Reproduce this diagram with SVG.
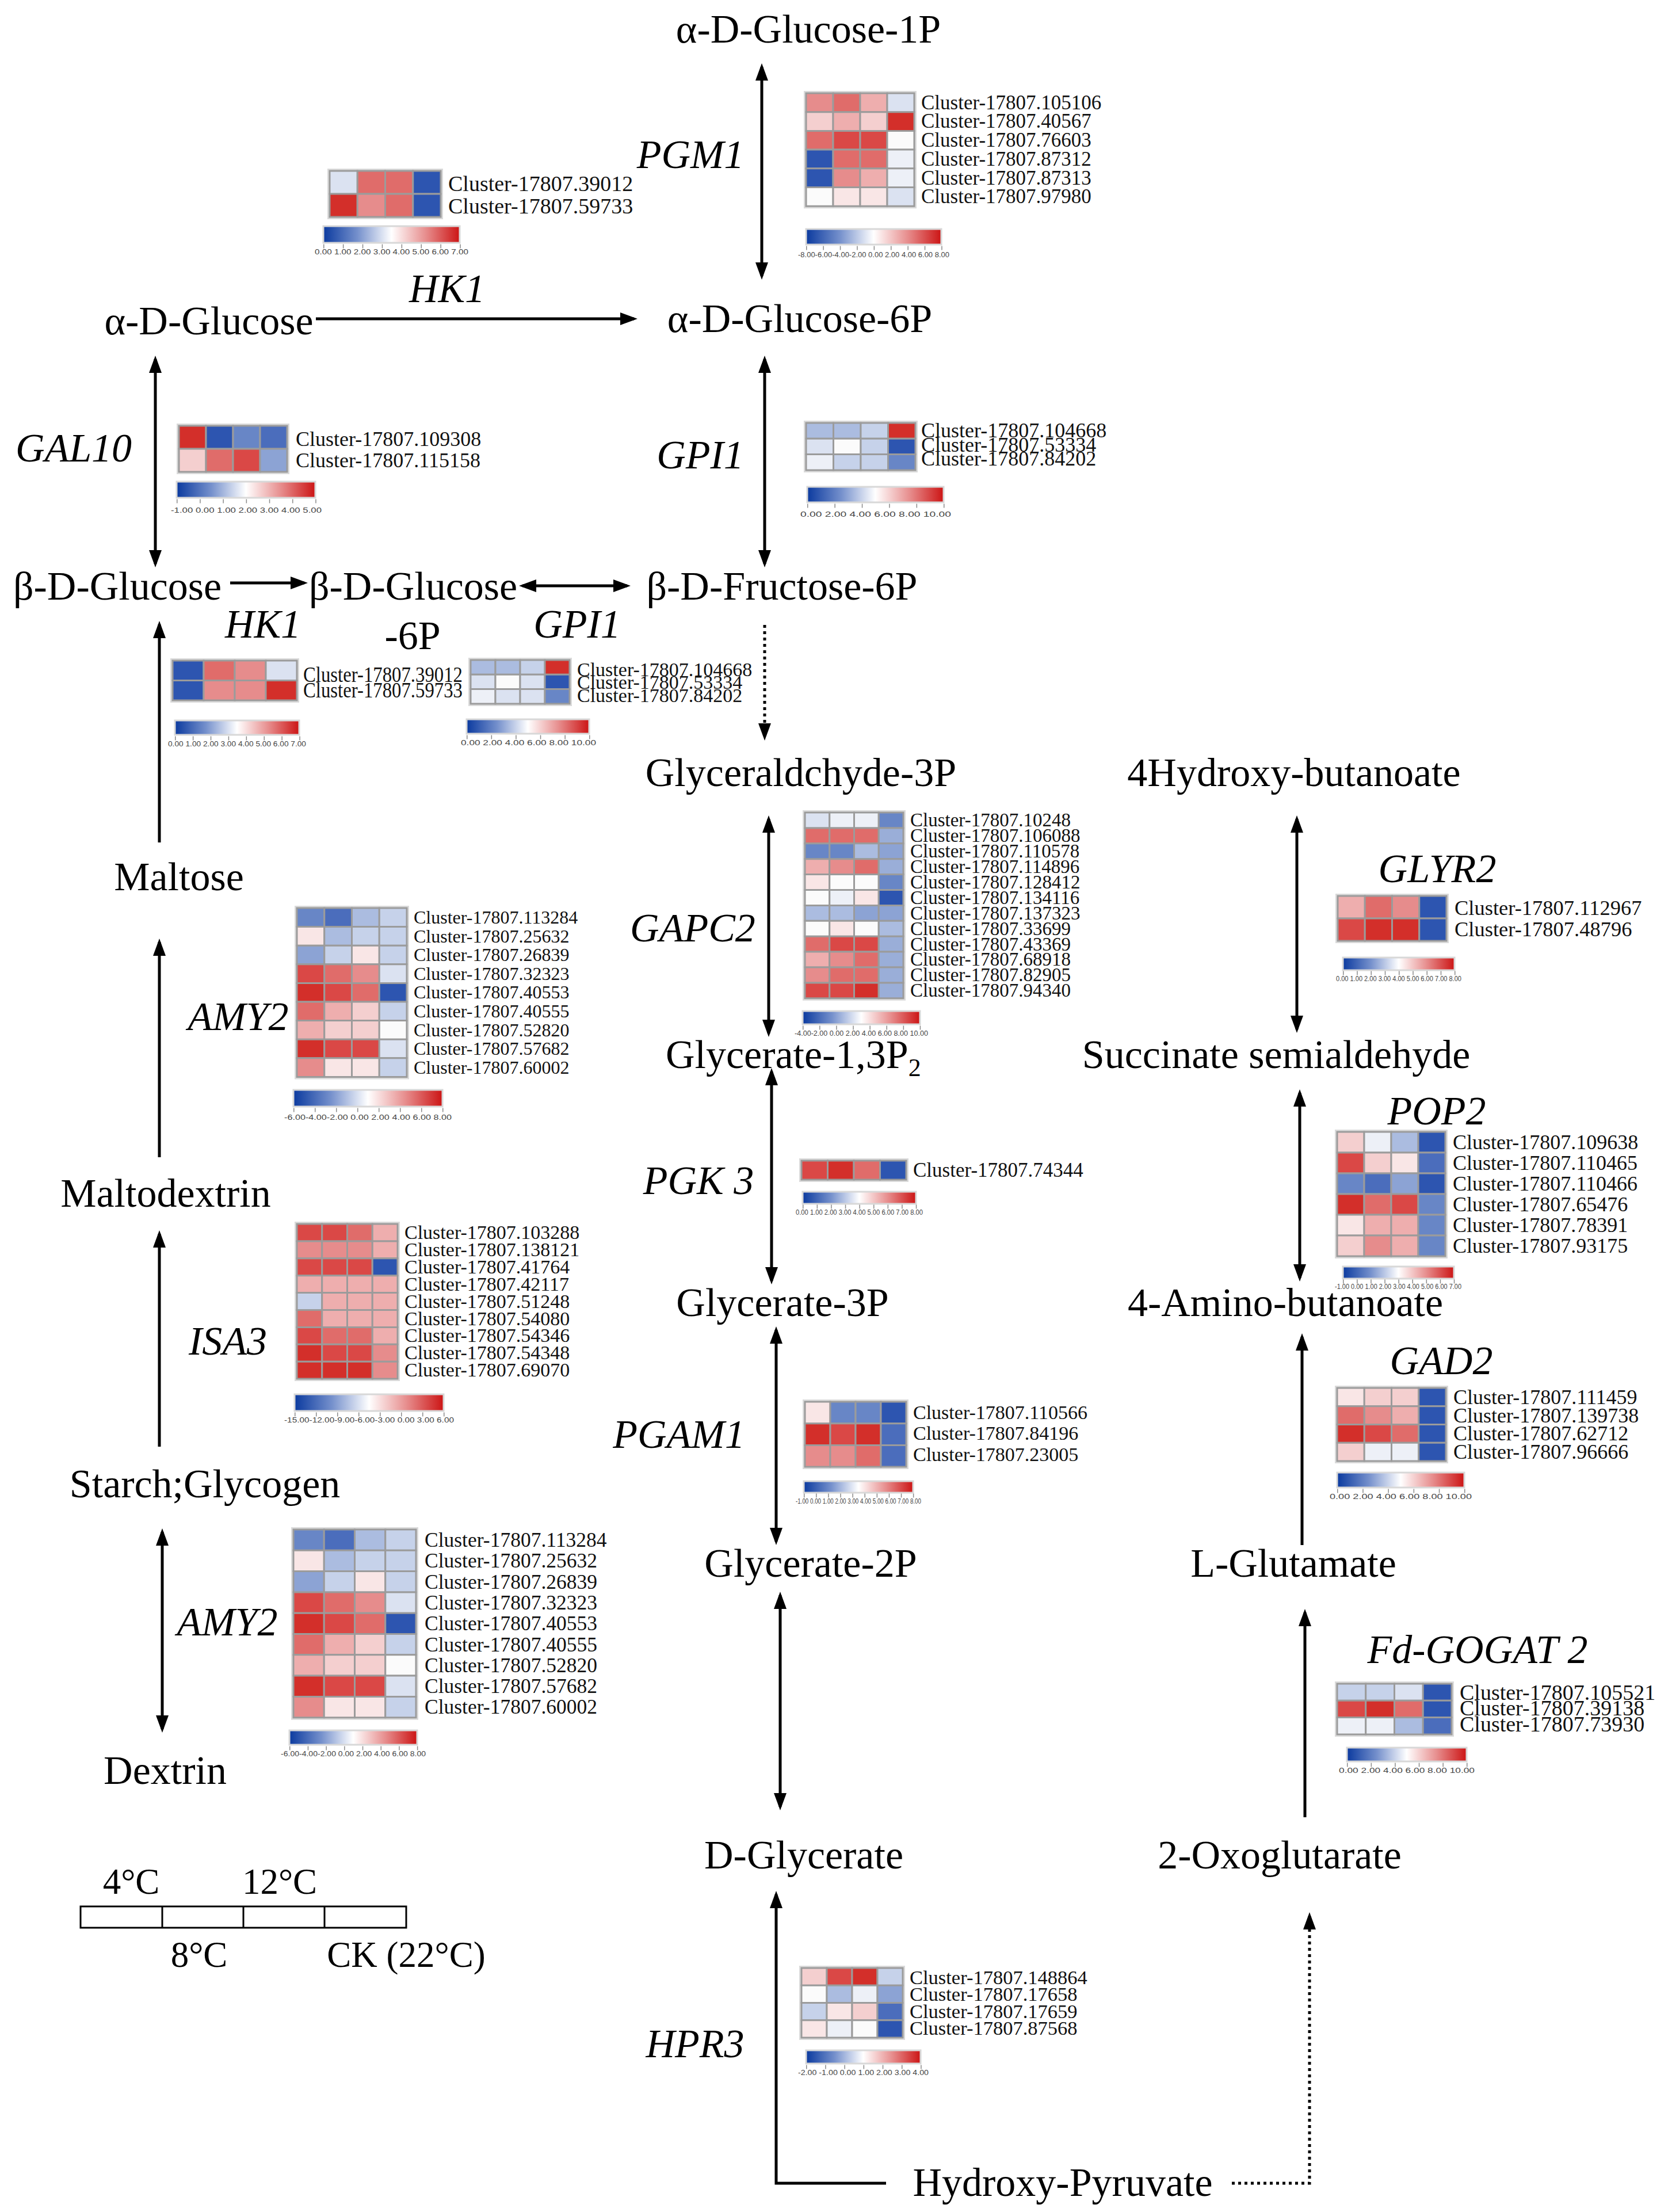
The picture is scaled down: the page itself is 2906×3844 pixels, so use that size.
<svg xmlns="http://www.w3.org/2000/svg" width="2906" height="3844" viewBox="0 0 2906 3844">
<defs>
<linearGradient id="grad" x1="0" y1="0" x2="1" y2="0">
<stop offset="0" stop-color="#0b3a9f"/>
<stop offset="0.25" stop-color="#7590cc"/>
<stop offset="0.5" stop-color="#ffffff"/>
<stop offset="0.75" stop-color="#e78e8e"/>
<stop offset="1" stop-color="#cc1414"/>
</linearGradient>
<marker id="ah" viewBox="0 0 30 22" refX="24" refY="11" markerWidth="30" markerHeight="22" markerUnits="userSpaceOnUse" orient="auto-start-reverse">
<path d="M0,0 L30,11 L0,22 z" fill="#000"/>
</marker>
<style>
.met{font-family:"Liberation Serif","Times New Roman",serif;font-size:70px;fill:#000;text-anchor:middle}
.enz{font-family:"Liberation Serif","Times New Roman",serif;font-size:70px;font-style:italic;fill:#000;text-anchor:middle}
.leg{font-family:"Liberation Serif","Times New Roman",serif;font-size:63px;fill:#000;text-anchor:middle}
.cl{font-family:"Liberation Serif","Times New Roman",serif;fill:#111}
.tk{font-family:"Liberation Sans",Arial,sans-serif;font-size:13px;fill:#444}
.hm rect{stroke:#9b9b9b;stroke-width:3px;vector-effect:non-scaling-stroke}
.hm .halo{fill:#9b9b9b;stroke:#dadada;stroke-width:8px}
.cb{fill:url(#grad);stroke:#d8d8d8;stroke-width:3}
.tl{stroke:#8a8a8a;stroke-width:7;fill:none}
.arr path{stroke:#000;stroke-width:5;fill:none}
.one{marker-end:url(#ah)}
.two{marker-start:url(#ah);marker-end:url(#ah)}
.dot{stroke-dasharray:5 6}
.a{fill:#d32f2a}.b{fill:#da4846}.c{fill:#e06c6a}.d{fill:#e68c8c}.e{fill:#eeaeae}.f{fill:#f4cfcf}.g{fill:#f9e6e6}
.w{fill:#fbfbfb}.h{fill:#edf0f7}.i{fill:#dbe2f1}.j{fill:#c6d2ea}.k{fill:#abbce0}.p{fill:#9aaed8}.l{fill:#8ca3d4}.m{fill:#6886c6}.n{fill:#4b6dbc}.o{fill:#2d55b0}
</style>
</defs>
<rect width="2906" height="3844" fill="#fff"/>

<g id="connectors" class="arr">
<path class="two" d="M1324,116 V480"/>
<path class="one" d="M549,554 H1102"/>
<path class="two" d="M1329,624 V980"/>
<path class="two" d="M270,624 V980"/>
<path class="one" d="M400,1013 H529"/>
<path class="two" d="M908,1018 H1090"/>
<path class="one dot" d="M1329,1086 V1281"/>
<path class="one" d="M277,1464 V1085"/>
<path class="one" d="M277,2011 V1637"/>
<path class="one" d="M277,2514 V2144"/>
<path class="two" d="M282,2662 V3005"/>
<path class="two" d="M1336,1423 V1796"/>
<path class="two" d="M1341,1862 V2226"/>
<path class="two" d="M1349,2311 V2679"/>
<path class="two" d="M1356,2772 V3140"/>
<path class="one" d="M1540,3794 H1349 V3292"/>
<path class="one dot" d="M2141,3794 H2276 V3329"/>
<path class="one" d="M2268,3158 V2802"/>
<path class="one" d="M2263,2685 V2323"/>
<path class="two" d="M2259,1899 V2221"/>
<path class="two" d="M2254,1423 V1789"/>
</g>

<g id="metabolites">
<g id="m-glc1p"><text class="met" x="1405" y="74">α-D-Glucose-1P</text></g>
<g id="m-aglc"><text class="met" x="363" y="581">α-D-Glucose</text></g>
<g id="m-glc6p"><text class="met" x="1390" y="577">α-D-Glucose-6P</text></g>
<g id="m-bglc"><text class="met" x="204" y="1042">β-D-Glucose</text></g>
<g id="m-bglc6p"><text class="met" x="718" y="1042">β-D-Glucose</text><text class="met" x="717" y="1128">-6P</text></g>
<g id="m-fru6p"><text class="met" x="1359" y="1042">β-D-Fructose-6P</text></g>
<g id="m-g3p"><text class="met" x="1392" y="1366">Glyceraldchyde-3P</text></g>
<g id="m-hb"><text class="met" x="2249" y="1366">4Hydroxy-butanoate</text></g>
<g id="m-maltose"><text class="met" x="311" y="1547">Maltose</text></g>
<g id="m-g13p2"><text class="met" x="1157" y="1856" style="text-anchor:start">Glycerate-1,3P<tspan font-size="44" dy="14">2</tspan></text></g>
<g id="m-ssa"><text class="met" x="2218" y="1856">Succinate semialdehyde</text></g>
<g id="m-maltodextrin"><text class="met" x="288" y="2097">Maltodextrin</text></g>
<g id="m-g3"><text class="met" x="1360" y="2287">Glycerate-3P</text></g>
<g id="m-gaba"><text class="met" x="2234" y="2287">4-Amino-butanoate</text></g>
<g id="m-starch"><text class="met" x="356" y="2602">Starch;Glycogen</text></g>
<g id="m-g2p"><text class="met" x="1409" y="2740">Glycerate-2P</text></g>
<g id="m-glu"><text class="met" x="2248" y="2740">L-Glutamate</text></g>
<g id="m-dextrin"><text class="met" x="287" y="3100">Dextrin</text></g>
<g id="m-dglycerate"><text class="met" x="1397" y="3247">D-Glycerate</text></g>
<g id="m-oxo"><text class="met" x="2224" y="3247">2-Oxoglutarate</text></g>
<g id="m-hp"><text class="met" x="1847" y="3816">Hydroxy-Pyruvate</text></g>
</g>

<g id="legend">
<rect x="140" y="3313" width="566" height="37" fill="none" stroke="#000" stroke-width="3"/>
<path d="M282,3313 V3350 M423,3313 V3350 M564,3313 V3350" stroke="#000" stroke-width="3"/>
<text class="leg" x="228" y="3291">4°C</text>
<text class="leg" x="486" y="3291">12°C</text>
<text class="leg" x="346" y="3418">8°C</text>
<text class="leg" x="706" y="3418">CK (22°C)</text>
</g>

<g id="enz-PGM1">
<text class="enz" x="1200" y="292">PGM1</text>
<g class="hm" transform="translate(1401,162) scale(47,32.7)">
<rect class="halo" width="4" height="6"/>
<rect class="d" x="0" y="0" width="1" height="1"/><rect class="c" x="1" y="0" width="1" height="1"/><rect class="e" x="2" y="0" width="1" height="1"/><rect class="i" x="3" y="0" width="1" height="1"/>
<rect class="f" x="0" y="1" width="1" height="1"/><rect class="e" x="1" y="1" width="1" height="1"/><rect class="f" x="2" y="1" width="1" height="1"/><rect class="a" x="3" y="1" width="1" height="1"/>
<rect class="c" x="0" y="2" width="1" height="1"/><rect class="b" x="1" y="2" width="1" height="1"/><rect class="b" x="2" y="2" width="1" height="1"/><rect class="w" x="3" y="2" width="1" height="1"/>
<rect class="o" x="0" y="3" width="1" height="1"/><rect class="c" x="1" y="3" width="1" height="1"/><rect class="c" x="2" y="3" width="1" height="1"/><rect class="h" x="3" y="3" width="1" height="1"/>
<rect class="o" x="0" y="4" width="1" height="1"/><rect class="d" x="1" y="4" width="1" height="1"/><rect class="e" x="2" y="4" width="1" height="1"/><rect class="h" x="3" y="4" width="1" height="1"/>
<rect class="w" x="0" y="5" width="1" height="1"/><rect class="g" x="1" y="5" width="1" height="1"/><rect class="g" x="2" y="5" width="1" height="1"/><rect class="i" x="3" y="5" width="1" height="1"/>
</g>
<g class="cl" font-size="35">
<text x="1601" y="190">Cluster-17807.105106</text>
<text x="1601" y="222">Cluster-17807.40567</text>
<text x="1601" y="255">Cluster-17807.76603</text>
<text x="1601" y="288">Cluster-17807.87312</text>
<text x="1601" y="321">Cluster-17807.87313</text>
<text x="1601" y="353">Cluster-17807.97980</text>
</g>
<rect class="cb" x="1401" y="398" width="235" height="27"/>
<path class="tl" d="M1401,431 H1638" stroke-dasharray="1.5 27.9"/>
<text class="tk" x="1387" y="447" textLength="263" lengthAdjust="spacingAndGlyphs">-8.00-6.00-4.00-2.00 0.00 2.00 4.00 6.00 8.00</text>
</g>

<g id="enz-HK1-top">
<text class="enz" x="777" y="525">HK1</text>
<g class="hm" transform="translate(573,297) scale(48.25,40)">
<rect class="halo" width="4" height="2"/>
<rect class="i" x="0" y="0" width="1" height="1"/><rect class="c" x="1" y="0" width="1" height="1"/><rect class="c" x="2" y="0" width="1" height="1"/><rect class="o" x="3" y="0" width="1" height="1"/>
<rect class="a" x="0" y="1" width="1" height="1"/><rect class="d" x="1" y="1" width="1" height="1"/><rect class="c" x="2" y="1" width="1" height="1"/><rect class="o" x="3" y="1" width="1" height="1"/>
</g>
<g class="cl" font-size="38">
<text x="779" y="332">Cluster-17807.39012</text>
<text x="779" y="371">Cluster-17807.59733</text>
</g>
<rect class="cb" x="562" y="393" width="237" height="29"/>
<path class="tl" d="M562,428 H801" stroke-dasharray="1.5 32.4"/>
<text class="tk" x="547" y="442" textLength="267" lengthAdjust="spacingAndGlyphs">0.00 1.00 2.00 3.00 4.00 5.00 6.00 7.00</text>
</g>

<g id="enz-GAL10">
<text class="enz" x="128" y="802">GAL10</text>
<g class="hm" transform="translate(311,740) scale(47,40)">
<rect class="halo" width="4" height="2"/>
<rect class="a" x="0" y="0" width="1" height="1"/><rect class="o" x="1" y="0" width="1" height="1"/><rect class="m" x="2" y="0" width="1" height="1"/><rect class="n" x="3" y="0" width="1" height="1"/>
<rect class="f" x="0" y="1" width="1" height="1"/><rect class="c" x="1" y="1" width="1" height="1"/><rect class="b" x="2" y="1" width="1" height="1"/><rect class="l" x="3" y="1" width="1" height="1"/>
</g>
<g class="cl" font-size="36">
<text x="514" y="775">Cluster-17807.109308</text>
<text x="514" y="812">Cluster-17807.115158</text>
</g>
<rect class="cb" x="307" y="837" width="241" height="28"/>
<path class="tl" d="M307,871 H550" stroke-dasharray="1.5 38.7"/>
<text class="tk" x="297" y="891" textLength="262" lengthAdjust="spacingAndGlyphs">-1.00 0.00 1.00 2.00 3.00 4.00 5.00</text>
</g>

<g id="enz-GPI1-top">
<text class="enz" x="1217" y="814">GPI1</text>
<g class="hm" transform="translate(1401,735) scale(47.5,27.3)">
<rect class="halo" width="4" height="3"/>
<rect class="k" x="0" y="0" width="1" height="1"/><rect class="k" x="1" y="0" width="1" height="1"/><rect class="j" x="2" y="0" width="1" height="1"/><rect class="a" x="3" y="0" width="1" height="1"/>
<rect class="i" x="0" y="1" width="1" height="1"/><rect class="w" x="1" y="1" width="1" height="1"/><rect class="j" x="2" y="1" width="1" height="1"/><rect class="o" x="3" y="1" width="1" height="1"/>
<rect class="h" x="0" y="2" width="1" height="1"/><rect class="j" x="1" y="2" width="1" height="1"/><rect class="j" x="2" y="2" width="1" height="1"/><rect class="m" x="3" y="2" width="1" height="1"/>
</g>
<g class="cl" font-size="36">
<text x="1601" y="760">Cluster-17807.104668</text>
<text x="1601" y="785">Cluster-17807.53334</text>
<text x="1601" y="809">Cluster-17807.84202</text>
</g>
<rect class="cb" x="1403" y="846" width="237" height="27"/>
<path class="tl" d="M1403,879 H1642" stroke-dasharray="1.5 45.9"/>
<text class="tk" x="1391" y="898" textLength="262" lengthAdjust="spacingAndGlyphs">0.00 2.00 4.00 6.00 8.00 10.00</text>
</g>

<g id="enz-HK1-low">
<text class="enz" x="457" y="1108">HK1</text>
<g class="hm" transform="translate(300,1148) scale(54,34.5)">
<rect class="halo" width="4" height="2"/>
<rect class="o" x="0" y="0" width="1" height="1"/><rect class="c" x="1" y="0" width="1" height="1"/><rect class="d" x="2" y="0" width="1" height="1"/><rect class="i" x="3" y="0" width="1" height="1"/>
<rect class="o" x="0" y="1" width="1" height="1"/><rect class="d" x="1" y="1" width="1" height="1"/><rect class="d" x="2" y="1" width="1" height="1"/><rect class="a" x="3" y="1" width="1" height="1"/>
</g>
<g class="cl" font-size="37">
<text x="527" y="1185" textLength="277" lengthAdjust="spacingAndGlyphs">Cluster-17807.39012</text>
<text x="527" y="1212" textLength="277" lengthAdjust="spacingAndGlyphs">Cluster-17807.59733</text>
</g>
<rect class="cb" x="304" y="1252" width="216" height="25"/>
<path class="tl" d="M304,1283 H522" stroke-dasharray="1.5 29.4"/>
<text class="tk" x="292" y="1297" textLength="240" lengthAdjust="spacingAndGlyphs">0.00 1.00 2.00 3.00 4.00 5.00 6.00 7.00</text>
</g>

<g id="enz-GPI1-low">
<text class="enz" x="1003" y="1108">GPI1</text>
<g class="hm" transform="translate(818,1147) scale(43,25.3)">
<rect class="halo" width="4" height="3"/>
<rect class="k" x="0" y="0" width="1" height="1"/><rect class="k" x="1" y="0" width="1" height="1"/><rect class="j" x="2" y="0" width="1" height="1"/><rect class="a" x="3" y="0" width="1" height="1"/>
<rect class="i" x="0" y="1" width="1" height="1"/><rect class="w" x="1" y="1" width="1" height="1"/><rect class="i" x="2" y="1" width="1" height="1"/><rect class="o" x="3" y="1" width="1" height="1"/>
<rect class="h" x="0" y="2" width="1" height="1"/><rect class="i" x="1" y="2" width="1" height="1"/><rect class="i" x="2" y="2" width="1" height="1"/><rect class="m" x="3" y="2" width="1" height="1"/>
</g>
<g class="cl" font-size="34">
<text x="1003" y="1175">Cluster-17807.104668</text>
<text x="1003" y="1197">Cluster-17807.53334</text>
<text x="1003" y="1220">Cluster-17807.84202</text>
</g>
<rect class="cb" x="811" y="1250" width="213" height="25"/>
<path class="tl" d="M811,1281 H1026" stroke-dasharray="1.5 41.1"/>
<text class="tk" x="801" y="1295" textLength="235" lengthAdjust="spacingAndGlyphs">0.00 2.00 4.00 6.00 8.00 10.00</text>
</g>

<g id="enz-GAPC2">
<text class="enz" x="1204" y="1636">GAPC2</text>
<g class="hm" transform="translate(1399,1412) scale(42.75,26.9)">
<rect class="halo" width="4" height="12"/>
<rect class="i" x="0" y="0" width="1" height="1"/><rect class="h" x="1" y="0" width="1" height="1"/><rect class="h" x="2" y="0" width="1" height="1"/><rect class="m" x="3" y="0" width="1" height="1"/>
<rect class="c" x="0" y="1" width="1" height="1"/><rect class="c" x="1" y="1" width="1" height="1"/><rect class="c" x="2" y="1" width="1" height="1"/><rect class="p" x="3" y="1" width="1" height="1"/>
<rect class="m" x="0" y="2" width="1" height="1"/><rect class="m" x="1" y="2" width="1" height="1"/><rect class="k" x="2" y="2" width="1" height="1"/><rect class="l" x="3" y="2" width="1" height="1"/>
<rect class="e" x="0" y="3" width="1" height="1"/><rect class="d" x="1" y="3" width="1" height="1"/><rect class="c" x="2" y="3" width="1" height="1"/><rect class="p" x="3" y="3" width="1" height="1"/>
<rect class="g" x="0" y="4" width="1" height="1"/><rect class="w" x="1" y="4" width="1" height="1"/><rect class="w" x="2" y="4" width="1" height="1"/><rect class="m" x="3" y="4" width="1" height="1"/>
<rect class="w" x="0" y="5" width="1" height="1"/><rect class="h" x="1" y="5" width="1" height="1"/><rect class="g" x="2" y="5" width="1" height="1"/><rect class="o" x="3" y="5" width="1" height="1"/>
<rect class="k" x="0" y="6" width="1" height="1"/><rect class="k" x="1" y="6" width="1" height="1"/><rect class="l" x="2" y="6" width="1" height="1"/><rect class="l" x="3" y="6" width="1" height="1"/>
<rect class="w" x="0" y="7" width="1" height="1"/><rect class="g" x="1" y="7" width="1" height="1"/><rect class="w" x="2" y="7" width="1" height="1"/><rect class="k" x="3" y="7" width="1" height="1"/>
<rect class="c" x="0" y="8" width="1" height="1"/><rect class="b" x="1" y="8" width="1" height="1"/><rect class="b" x="2" y="8" width="1" height="1"/><rect class="p" x="3" y="8" width="1" height="1"/>
<rect class="e" x="0" y="9" width="1" height="1"/><rect class="d" x="1" y="9" width="1" height="1"/><rect class="c" x="2" y="9" width="1" height="1"/><rect class="p" x="3" y="9" width="1" height="1"/>
<rect class="d" x="0" y="10" width="1" height="1"/><rect class="c" x="1" y="10" width="1" height="1"/><rect class="c" x="2" y="10" width="1" height="1"/><rect class="p" x="3" y="10" width="1" height="1"/>
<rect class="b" x="0" y="11" width="1" height="1"/><rect class="b" x="1" y="11" width="1" height="1"/><rect class="a" x="2" y="11" width="1" height="1"/><rect class="p" x="3" y="11" width="1" height="1"/>
</g>
<g class="cl" font-size="33">
<text x="1582" y="1436">Cluster-17807.10248</text>
<text x="1582" y="1463">Cluster-17807.106088</text>
<text x="1582" y="1490">Cluster-17807.110578</text>
<text x="1582" y="1517">Cluster-17807.114896</text>
<text x="1582" y="1544">Cluster-17807.128412</text>
<text x="1582" y="1571">Cluster-17807.134116</text>
<text x="1582" y="1598">Cluster-17807.137323</text>
<text x="1582" y="1625">Cluster-17807.33699</text>
<text x="1582" y="1652">Cluster-17807.43369</text>
<text x="1582" y="1678">Cluster-17807.68918</text>
<text x="1582" y="1705">Cluster-17807.82905</text>
<text x="1582" y="1732">Cluster-17807.94340</text>
</g>
<rect class="cb" x="1395" y="1757" width="204" height="23"/>
<path class="tl" d="M1395,1786 H1601" stroke-dasharray="1.5 27.6"/>
<text class="tk" x="1381" y="1800" textLength="232" lengthAdjust="spacingAndGlyphs">-4.00-2.00 0.00 2.00 4.00 6.00 8.00 10.00</text>
</g>

<g id="enz-AMY2-top">
<text class="enz" x="414" y="1790">AMY2</text>
<g class="hm" transform="translate(516,1578) scale(47.75,32.6)">
<rect class="halo" width="4" height="9"/>
<rect class="m" x="0" y="0" width="1" height="1"/><rect class="n" x="1" y="0" width="1" height="1"/><rect class="k" x="2" y="0" width="1" height="1"/><rect class="j" x="3" y="0" width="1" height="1"/>
<rect class="g" x="0" y="1" width="1" height="1"/><rect class="k" x="1" y="1" width="1" height="1"/><rect class="j" x="2" y="1" width="1" height="1"/><rect class="j" x="3" y="1" width="1" height="1"/>
<rect class="l" x="0" y="2" width="1" height="1"/><rect class="j" x="1" y="2" width="1" height="1"/><rect class="g" x="2" y="2" width="1" height="1"/><rect class="j" x="3" y="2" width="1" height="1"/>
<rect class="b" x="0" y="3" width="1" height="1"/><rect class="c" x="1" y="3" width="1" height="1"/><rect class="d" x="2" y="3" width="1" height="1"/><rect class="i" x="3" y="3" width="1" height="1"/>
<rect class="a" x="0" y="4" width="1" height="1"/><rect class="b" x="1" y="4" width="1" height="1"/><rect class="c" x="2" y="4" width="1" height="1"/><rect class="o" x="3" y="4" width="1" height="1"/>
<rect class="c" x="0" y="5" width="1" height="1"/><rect class="e" x="1" y="5" width="1" height="1"/><rect class="f" x="2" y="5" width="1" height="1"/><rect class="j" x="3" y="5" width="1" height="1"/>
<rect class="e" x="0" y="6" width="1" height="1"/><rect class="f" x="1" y="6" width="1" height="1"/><rect class="f" x="2" y="6" width="1" height="1"/><rect class="w" x="3" y="6" width="1" height="1"/>
<rect class="a" x="0" y="7" width="1" height="1"/><rect class="b" x="1" y="7" width="1" height="1"/><rect class="b" x="2" y="7" width="1" height="1"/><rect class="i" x="3" y="7" width="1" height="1"/>
<rect class="d" x="0" y="8" width="1" height="1"/><rect class="g" x="1" y="8" width="1" height="1"/><rect class="g" x="2" y="8" width="1" height="1"/><rect class="j" x="3" y="8" width="1" height="1"/>
</g>
<g class="cl" font-size="32">
<text x="719" y="1605">Cluster-17807.113284</text>
<text x="719" y="1638">Cluster-17807.25632</text>
<text x="719" y="1670">Cluster-17807.26839</text>
<text x="719" y="1703">Cluster-17807.32323</text>
<text x="719" y="1735">Cluster-17807.40553</text>
<text x="719" y="1768">Cluster-17807.40555</text>
<text x="719" y="1801">Cluster-17807.52820</text>
<text x="719" y="1833">Cluster-17807.57682</text>
<text x="719" y="1866">Cluster-17807.60002</text>
</g>
<rect class="cb" x="510" y="1894" width="259" height="29"/>
<path class="tl" d="M510,1929 H771" stroke-dasharray="1.5 35.5"/>
<text class="tk" x="494" y="1946" textLength="291" lengthAdjust="spacingAndGlyphs">-6.00-4.00-2.00 0.00 2.00 4.00 6.00 8.00</text>
</g>

<g id="enz-ISA3">
<text class="enz" x="396" y="2354">ISA3</text>
<g class="hm" transform="translate(516,2127) scale(43.75,29.9)">
<rect class="halo" width="4" height="9"/>
<rect class="b" x="0" y="0" width="1" height="1"/><rect class="b" x="1" y="0" width="1" height="1"/><rect class="c" x="2" y="0" width="1" height="1"/><rect class="e" x="3" y="0" width="1" height="1"/>
<rect class="d" x="0" y="1" width="1" height="1"/><rect class="d" x="1" y="1" width="1" height="1"/><rect class="d" x="2" y="1" width="1" height="1"/><rect class="e" x="3" y="1" width="1" height="1"/>
<rect class="b" x="0" y="2" width="1" height="1"/><rect class="b" x="1" y="2" width="1" height="1"/><rect class="b" x="2" y="2" width="1" height="1"/><rect class="o" x="3" y="2" width="1" height="1"/>
<rect class="e" x="0" y="3" width="1" height="1"/><rect class="e" x="1" y="3" width="1" height="1"/><rect class="e" x="2" y="3" width="1" height="1"/><rect class="e" x="3" y="3" width="1" height="1"/>
<rect class="j" x="0" y="4" width="1" height="1"/><rect class="e" x="1" y="4" width="1" height="1"/><rect class="e" x="2" y="4" width="1" height="1"/><rect class="e" x="3" y="4" width="1" height="1"/>
<rect class="c" x="0" y="5" width="1" height="1"/><rect class="e" x="1" y="5" width="1" height="1"/><rect class="e" x="2" y="5" width="1" height="1"/><rect class="e" x="3" y="5" width="1" height="1"/>
<rect class="b" x="0" y="6" width="1" height="1"/><rect class="c" x="1" y="6" width="1" height="1"/><rect class="c" x="2" y="6" width="1" height="1"/><rect class="e" x="3" y="6" width="1" height="1"/>
<rect class="a" x="0" y="7" width="1" height="1"/><rect class="b" x="1" y="7" width="1" height="1"/><rect class="b" x="2" y="7" width="1" height="1"/><rect class="d" x="3" y="7" width="1" height="1"/>
<rect class="a" x="0" y="8" width="1" height="1"/><rect class="a" x="1" y="8" width="1" height="1"/><rect class="a" x="2" y="8" width="1" height="1"/><rect class="d" x="3" y="8" width="1" height="1"/>
</g>
<g class="cl" font-size="34">
<text x="703" y="2153">Cluster-17807.103288</text>
<text x="703" y="2183">Cluster-17807.138121</text>
<text x="703" y="2213">Cluster-17807.41764</text>
<text x="703" y="2243">Cluster-17807.42117</text>
<text x="703" y="2273">Cluster-17807.51248</text>
<text x="703" y="2303">Cluster-17807.54080</text>
<text x="703" y="2332">Cluster-17807.54346</text>
<text x="703" y="2362">Cluster-17807.54348</text>
<text x="703" y="2392">Cluster-17807.69070</text>
</g>
<rect class="cb" x="512" y="2423" width="259" height="29"/>
<path class="tl" d="M512,2458 H773" stroke-dasharray="1.5 35.5"/>
<text class="tk" x="494" y="2472" textLength="295" lengthAdjust="spacingAndGlyphs">-15.00-12.00-9.00-6.00-3.00 0.00 3.00 6.00</text>
</g>

<g id="enz-AMY2-low">
<text class="enz" x="395" y="2842">AMY2</text>
<g class="hm" transform="translate(510,2658) scale(53.25,36.3)">
<rect class="halo" width="4" height="9"/>
<rect class="m" x="0" y="0" width="1" height="1"/><rect class="n" x="1" y="0" width="1" height="1"/><rect class="k" x="2" y="0" width="1" height="1"/><rect class="j" x="3" y="0" width="1" height="1"/>
<rect class="g" x="0" y="1" width="1" height="1"/><rect class="k" x="1" y="1" width="1" height="1"/><rect class="j" x="2" y="1" width="1" height="1"/><rect class="j" x="3" y="1" width="1" height="1"/>
<rect class="l" x="0" y="2" width="1" height="1"/><rect class="j" x="1" y="2" width="1" height="1"/><rect class="g" x="2" y="2" width="1" height="1"/><rect class="j" x="3" y="2" width="1" height="1"/>
<rect class="b" x="0" y="3" width="1" height="1"/><rect class="c" x="1" y="3" width="1" height="1"/><rect class="d" x="2" y="3" width="1" height="1"/><rect class="i" x="3" y="3" width="1" height="1"/>
<rect class="a" x="0" y="4" width="1" height="1"/><rect class="b" x="1" y="4" width="1" height="1"/><rect class="c" x="2" y="4" width="1" height="1"/><rect class="o" x="3" y="4" width="1" height="1"/>
<rect class="c" x="0" y="5" width="1" height="1"/><rect class="e" x="1" y="5" width="1" height="1"/><rect class="f" x="2" y="5" width="1" height="1"/><rect class="j" x="3" y="5" width="1" height="1"/>
<rect class="e" x="0" y="6" width="1" height="1"/><rect class="f" x="1" y="6" width="1" height="1"/><rect class="f" x="2" y="6" width="1" height="1"/><rect class="w" x="3" y="6" width="1" height="1"/>
<rect class="a" x="0" y="7" width="1" height="1"/><rect class="b" x="1" y="7" width="1" height="1"/><rect class="b" x="2" y="7" width="1" height="1"/><rect class="i" x="3" y="7" width="1" height="1"/>
<rect class="d" x="0" y="8" width="1" height="1"/><rect class="g" x="1" y="8" width="1" height="1"/><rect class="g" x="2" y="8" width="1" height="1"/><rect class="j" x="3" y="8" width="1" height="1"/>
</g>
<g class="cl" font-size="35.5">
<text x="738" y="2688">Cluster-17807.113284</text>
<text x="738" y="2724">Cluster-17807.25632</text>
<text x="738" y="2761">Cluster-17807.26839</text>
<text x="738" y="2797">Cluster-17807.32323</text>
<text x="738" y="2833">Cluster-17807.40553</text>
<text x="738" y="2870">Cluster-17807.40555</text>
<text x="738" y="2906">Cluster-17807.52820</text>
<text x="738" y="2942">Cluster-17807.57682</text>
<text x="738" y="2978">Cluster-17807.60002</text>
</g>
<rect class="cb" x="503" y="3007" width="222" height="25"/>
<path class="tl" d="M503,3038 H727" stroke-dasharray="1.5 30.2"/>
<text class="tk" x="488" y="3052" textLength="252" lengthAdjust="spacingAndGlyphs">-6.00-4.00-2.00 0.00 2.00 4.00 6.00 8.00</text>
</g>

<g id="enz-GLYR2">
<text class="enz" x="2498" y="1533">GLYR2</text>
<g class="hm" transform="translate(2325,1557) scale(47.25,39)">
<rect class="halo" width="4" height="2"/>
<rect class="e" x="0" y="0" width="1" height="1"/><rect class="c" x="1" y="0" width="1" height="1"/><rect class="d" x="2" y="0" width="1" height="1"/><rect class="o" x="3" y="0" width="1" height="1"/>
<rect class="b" x="0" y="1" width="1" height="1"/><rect class="a" x="1" y="1" width="1" height="1"/><rect class="a" x="2" y="1" width="1" height="1"/><rect class="o" x="3" y="1" width="1" height="1"/>
</g>
<g class="cl" font-size="36.5">
<text x="2528" y="1590">Cluster-17807.112967</text>
<text x="2528" y="1627">Cluster-17807.48796</text>
</g>
<rect class="cb" x="2334" y="1664" width="194" height="22"/>
<path class="tl" d="M2334,1691 H2530" stroke-dasharray="1.5 22.75"/>
<text class="tk" x="2322" y="1705" textLength="218" lengthAdjust="spacingAndGlyphs">0.00 1.00 2.00 3.00 4.00 5.00 6.00 7.00 8.00</text>
</g>

<g id="enz-POP2">
<text class="enz" x="2497" y="1954">POP2</text>
<g class="hm" transform="translate(2324,1967) scale(47,36)">
<rect class="halo" width="4" height="6"/>
<rect class="f" x="0" y="0" width="1" height="1"/><rect class="h" x="1" y="0" width="1" height="1"/><rect class="k" x="2" y="0" width="1" height="1"/><rect class="o" x="3" y="0" width="1" height="1"/>
<rect class="b" x="0" y="1" width="1" height="1"/><rect class="f" x="1" y="1" width="1" height="1"/><rect class="g" x="2" y="1" width="1" height="1"/><rect class="n" x="3" y="1" width="1" height="1"/>
<rect class="m" x="0" y="2" width="1" height="1"/><rect class="n" x="1" y="2" width="1" height="1"/><rect class="l" x="2" y="2" width="1" height="1"/><rect class="o" x="3" y="2" width="1" height="1"/>
<rect class="a" x="0" y="3" width="1" height="1"/><rect class="c" x="1" y="3" width="1" height="1"/><rect class="b" x="2" y="3" width="1" height="1"/><rect class="m" x="3" y="3" width="1" height="1"/>
<rect class="g" x="0" y="4" width="1" height="1"/><rect class="e" x="1" y="4" width="1" height="1"/><rect class="e" x="2" y="4" width="1" height="1"/><rect class="m" x="3" y="4" width="1" height="1"/>
<rect class="f" x="0" y="5" width="1" height="1"/><rect class="d" x="1" y="5" width="1" height="1"/><rect class="e" x="2" y="5" width="1" height="1"/><rect class="m" x="3" y="5" width="1" height="1"/>
</g>
<g class="cl" font-size="36">
<text x="2525" y="1997">Cluster-17807.109638</text>
<text x="2525" y="2033">Cluster-17807.110465</text>
<text x="2525" y="2069">Cluster-17807.110466</text>
<text x="2525" y="2105">Cluster-17807.65476</text>
<text x="2525" y="2141">Cluster-17807.78391</text>
<text x="2525" y="2177">Cluster-17807.93175</text>
</g>
<rect class="cb" x="2334" y="2201" width="193" height="21"/>
<path class="tl" d="M2334,2227 H2529" stroke-dasharray="1.5 22.6"/>
<text class="tk" x="2320" y="2240" textLength="220" lengthAdjust="spacingAndGlyphs">-1.00 0.00 1.00 2.00 3.00 4.00 5.00 6.00 7.00</text>
</g>

<g id="enz-PGK3">
<text class="enz" x="1214" y="2075">PGK 3</text>
<g class="hm" transform="translate(1393,2017) scale(45.5,33)">
<rect class="halo" width="4" height="1"/>
<rect class="b" x="0" y="0" width="1" height="1"/><rect class="a" x="1" y="0" width="1" height="1"/><rect class="c" x="2" y="0" width="1" height="1"/><rect class="o" x="3" y="0" width="1" height="1"/>
</g>
<g class="cl" font-size="35">
<text x="1587" y="2045">Cluster-17807.74344</text>
</g>
<rect class="cb" x="1395" y="2071" width="197" height="21"/>
<path class="tl" d="M1395,2097 H1594" stroke-dasharray="1.5 23.1"/>
<text class="tk" x="1383" y="2111" textLength="221" lengthAdjust="spacingAndGlyphs">0.00 1.00 2.00 3.00 4.00 5.00 6.00 7.00 8.00</text>
</g>

<g id="enz-GAD2">
<text class="enz" x="2505" y="2388">GAD2</text>
<g class="hm" transform="translate(2324,2412) scale(47.25,31.75)">
<rect class="halo" width="4" height="4"/>
<rect class="g" x="0" y="0" width="1" height="1"/><rect class="f" x="1" y="0" width="1" height="1"/><rect class="f" x="2" y="0" width="1" height="1"/><rect class="o" x="3" y="0" width="1" height="1"/>
<rect class="c" x="0" y="1" width="1" height="1"/><rect class="d" x="1" y="1" width="1" height="1"/><rect class="e" x="2" y="1" width="1" height="1"/><rect class="o" x="3" y="1" width="1" height="1"/>
<rect class="a" x="0" y="2" width="1" height="1"/><rect class="b" x="1" y="2" width="1" height="1"/><rect class="c" x="2" y="2" width="1" height="1"/><rect class="o" x="3" y="2" width="1" height="1"/>
<rect class="f" x="0" y="3" width="1" height="1"/><rect class="h" x="1" y="3" width="1" height="1"/><rect class="h" x="2" y="3" width="1" height="1"/><rect class="o" x="3" y="3" width="1" height="1"/>
</g>
<g class="cl" font-size="36">
<text x="2526" y="2440">Cluster-17807.111459</text>
<text x="2526" y="2472">Cluster-17807.139738</text>
<text x="2526" y="2503">Cluster-17807.62712</text>
<text x="2526" y="2535">Cluster-17807.96666</text>
</g>
<rect class="cb" x="2324" y="2559" width="221" height="26"/>
<path class="tl" d="M2324,2591 H2547" stroke-dasharray="1.5 42.7"/>
<text class="tk" x="2311" y="2605" textLength="247" lengthAdjust="spacingAndGlyphs">0.00 2.00 4.00 6.00 8.00 10.00</text>
</g>

<g id="enz-PGAM1">
<text class="enz" x="1180" y="2516">PGAM1</text>
<g class="hm" transform="translate(1399,2436) scale(44,37.7)">
<rect class="halo" width="4" height="3"/>
<rect class="g" x="0" y="0" width="1" height="1"/><rect class="m" x="1" y="0" width="1" height="1"/><rect class="m" x="2" y="0" width="1" height="1"/><rect class="o" x="3" y="0" width="1" height="1"/>
<rect class="a" x="0" y="1" width="1" height="1"/><rect class="b" x="1" y="1" width="1" height="1"/><rect class="a" x="2" y="1" width="1" height="1"/><rect class="n" x="3" y="1" width="1" height="1"/>
<rect class="d" x="0" y="2" width="1" height="1"/><rect class="d" x="1" y="2" width="1" height="1"/><rect class="c" x="2" y="2" width="1" height="1"/><rect class="n" x="3" y="2" width="1" height="1"/>
</g>
<g class="cl" font-size="34">
<text x="1587" y="2466">Cluster-17807.110566</text>
<text x="1587" y="2502">Cluster-17807.84196</text>
<text x="1587" y="2539">Cluster-17807.23005</text>
</g>
<rect class="cb" x="1397" y="2574" width="190" height="20"/>
<path class="tl" d="M1397,2599 H1589" stroke-dasharray="1.5 19.6"/>
<text class="tk" x="1383" y="2613" textLength="218" lengthAdjust="spacingAndGlyphs">-1.00 0.00 1.00 2.00 3.00 4.00 5.00 6.00 7.00 8.00</text>
</g>

<g id="enz-FdGOGAT2">
<text class="enz" x="2568" y="2890">Fd-GOGAT 2</text>
<g class="hm" transform="translate(2324,2926) scale(49.75,29.3)">
<rect class="halo" width="4" height="3"/>
<rect class="j" x="0" y="0" width="1" height="1"/><rect class="j" x="1" y="0" width="1" height="1"/><rect class="i" x="2" y="0" width="1" height="1"/><rect class="o" x="3" y="0" width="1" height="1"/>
<rect class="b" x="0" y="1" width="1" height="1"/><rect class="a" x="1" y="1" width="1" height="1"/><rect class="c" x="2" y="1" width="1" height="1"/><rect class="o" x="3" y="1" width="1" height="1"/>
<rect class="h" x="0" y="2" width="1" height="1"/><rect class="h" x="1" y="2" width="1" height="1"/><rect class="k" x="2" y="2" width="1" height="1"/><rect class="n" x="3" y="2" width="1" height="1"/>
</g>
<g class="cl" font-size="38">
<text x="2537" y="2954">Cluster-17807.105521</text>
<text x="2537" y="2981">Cluster-17807.39138</text>
<text x="2537" y="3009">Cluster-17807.73930</text>
</g>
<rect class="cb" x="2341" y="3037" width="208" height="24"/>
<path class="tl" d="M2341,3067 H2551" stroke-dasharray="1.5 40.1"/>
<text class="tk" x="2327" y="3081" textLength="236" lengthAdjust="spacingAndGlyphs">0.00 2.00 4.00 6.00 8.00 10.00</text>
</g>

<g id="enz-HPR3">
<text class="enz" x="1208" y="3575">HPR3</text>
<g class="hm" transform="translate(1393,3420) scale(44,30.25)">
<rect class="halo" width="4" height="4"/>
<rect class="f" x="0" y="0" width="1" height="1"/><rect class="b" x="1" y="0" width="1" height="1"/><rect class="a" x="2" y="0" width="1" height="1"/><rect class="j" x="3" y="0" width="1" height="1"/>
<rect class="w" x="0" y="1" width="1" height="1"/><rect class="k" x="1" y="1" width="1" height="1"/><rect class="h" x="2" y="1" width="1" height="1"/><rect class="l" x="3" y="1" width="1" height="1"/>
<rect class="j" x="0" y="2" width="1" height="1"/><rect class="g" x="1" y="2" width="1" height="1"/><rect class="f" x="2" y="2" width="1" height="1"/><rect class="n" x="3" y="2" width="1" height="1"/>
<rect class="g" x="0" y="3" width="1" height="1"/><rect class="h" x="1" y="3" width="1" height="1"/><rect class="w" x="2" y="3" width="1" height="1"/><rect class="o" x="3" y="3" width="1" height="1"/>
</g>
<g class="cl" font-size="34.5">
<text x="1581" y="3448">Cluster-17807.148864</text>
<text x="1581" y="3477">Cluster-17807.17658</text>
<text x="1581" y="3507">Cluster-17807.17659</text>
<text x="1581" y="3536">Cluster-17807.87568</text>
</g>
<rect class="cb" x="1401" y="3563" width="199" height="23"/>
<path class="tl" d="M1401,3592 H1602" stroke-dasharray="1.5 31.7"/>
<text class="tk" x="1387" y="3606" textLength="227" lengthAdjust="spacingAndGlyphs">-2.00 -1.00 0.00 1.00 2.00 3.00 4.00</text>
</g>
</svg>
